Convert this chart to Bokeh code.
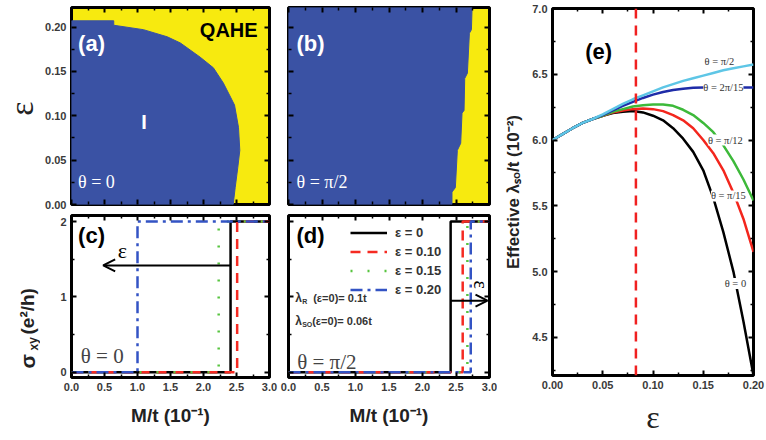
from bokeh.plotting import figure
from bokeh.layouts import row, column
from bokeh.models import (Range1d, FixedTicker, PrintfTickFormatter, LinearAxis, Label,
                          Arrow, OpenHead, Span, Legend, LegendItem)
from bokeh.embed import file_html
from bokeh.resources import INLINE

# ---------------- data ----------------
# (a) phase boundary, theta = 0  (M/t in 1e-1, epsilon)
a_M = [2.45, 2.48, 2.52, 2.55, 2.53, 2.47, 2.41, 2.30, 2.15, 1.95, 1.65, 1.45, 1.09, 0.64, 0.64, 0.0]
a_eps = [0.0, 0.019, 0.042, 0.061, 0.087, 0.112, 0.121, 0.137, 0.154, 0.166, 0.182, 0.189, 0.197, 0.202, 0.207, 0.207]
# (b) phase boundary, theta = pi/2
b_M = [2.44, 2.44, 2.49, 2.52, 2.57, 2.59, 2.62, 2.63, 2.67, 2.70, 2.73, 2.74]
b_eps = [0.0, 0.014, 0.019, 0.061, 0.069, 0.103, 0.106, 0.142, 0.148, 0.193, 0.197, 0.222]

# (c),(d) Hall conductance steps
eps_labels = ["ε = 0", "ε = 0.10", "ε = 0.15", "ε = 0.20"]
Mt_theta0 = [2.41, 2.51, 2.23, 1.00]
Mt_theta90 = [2.42, 2.60, 2.67, 2.72]
sigma_low, sigma_high = 0.0, 2.0
M_max = 3.0

# (e) effective lambda_so/t (1e-2) vs epsilon
eps_e = [0.00, 0.01, 0.02, 0.03, 0.04, 0.05, 0.06, 0.07, 0.08, 0.09, 0.10,
         0.11, 0.12, 0.13, 0.14, 0.15, 0.16, 0.17, 0.18, 0.19, 0.20]
lam_0 = [6.00, 6.045, 6.09, 6.13, 6.16, 6.185, 6.205, 6.215, 6.22, 6.21, 6.185,
         6.15, 6.09, 6.01, 5.91, 5.77, 5.56, 5.30, 5.00, 4.62, 4.21]
lam_pi15 = [6.00, 6.045, 6.09, 6.13, 6.16, 6.185, 6.21, 6.225, 6.235, 6.24, 6.235,
            6.22, 6.19, 6.15, 6.09, 6.00, 5.90, 5.77, 5.60, 5.40, 5.15]
lam_pi12 = [6.00, 6.045, 6.09, 6.13, 6.16, 6.185, 6.215, 6.235, 6.255, 6.265, 6.27,
            6.27, 6.26, 6.23, 6.19, 6.13, 6.06, 5.96, 5.84, 5.70, 5.54]
lam_2pi15 = [6.00, 6.045, 6.09, 6.13, 6.16, 6.19, 6.225, 6.26, 6.29, 6.32, 6.345,
             6.365, 6.38, 6.39, 6.397, 6.40, 6.40, 6.40, 6.40, 6.40, 6.40]
lam_pi2 = [6.00, 6.045, 6.09, 6.13, 6.16, 6.195, 6.235, 6.275, 6.31, 6.34, 6.37,
           6.40, 6.425, 6.45, 6.47, 6.49, 6.51, 6.53, 6.545, 6.56, 6.575]
theta_labels = ["θ = 0", "θ = π/15", "θ = π/12", "θ = 2π/15", "θ = π/2"]
eps_critical = 0.083

# ticks
ticks_M = [0.0, 0.5, 1.0, 1.5, 2.0, 2.5, 3.0]
minor_M = [0.25, 0.75, 1.25, 1.75, 2.25, 2.75]
ticks_eps = [0.0, 0.05, 0.10, 0.15, 0.20]
minor_eps = [0.025, 0.075, 0.125, 0.175]
ticks_sig = [0, 1, 2]
minor_sig = [0.5, 1.5]
ticks_lam = [4.5, 5.0, 5.5, 6.0, 6.5, 7.0]
minor_lam = [4.25, 4.75, 5.25, 5.75, 6.25, 6.75]

SANS = "Liberation Sans"
SERIF = "Liberation Serif"
BLUE_PH = "#3a52a4"
YELLOW_PH = "#f7ea0f"
LINE_COLS = ["black", "#f52a22", "#57c43f", "#3353c4"]
LINE_DASH = ["solid", "10 7", "2 15", "12 5 3 5"]
E_COLS = ["black", "#f3261d", "#3db93a", "#1e2ca8", "#5ec6e6"]


def make_fig(fw, fh, xr, yr, left, right, top, bottom, bg="white"):
    p = figure(frame_width=fw, frame_height=fh, x_range=Range1d(*xr), y_range=Range1d(*yr),
               output_backend="svg", toolbar_location=None,
               min_border_left=left, min_border_right=right,
               min_border_top=top, min_border_bottom=bottom)
    p.grid.visible = False
    p.outline_line_color = "black"
    p.outline_line_width = 3
    p.outline_line_alpha = 1
    p.background_fill_color = bg
    p.border_fill_color = "white"
    return p


def style_axis(ax, ticks, minor, labels=True, fmt=None, standoff=5):
    ax.ticker = FixedTicker(ticks=ticks, minor_ticks=minor)
    ax.axis_line_color = None
    ax.major_tick_in = 5
    ax.major_tick_out = 0
    ax.major_tick_line_width = 2
    ax.minor_tick_in = 3
    ax.minor_tick_out = 0
    ax.minor_tick_line_width = 1.5
    if labels:
        ax.major_label_text_font = SANS
        ax.major_label_text_font_style = "bold"
        ax.major_label_text_font_size = "11px"
        ax.major_label_text_color = "#3a3a3a"
        ax.major_label_standoff = standoff
        if fmt:
            ax.formatter = PrintfTickFormatter(format=fmt)
    else:
        ax.major_label_text_font_size = "0px"
        ax.major_label_text_color = None
        ax.major_label_standoff = 0


def add_axes(p, xt, xm, yt, ym, xlab, ylab, xfmt=None, yfmt=None, xstand=5):
    bottom = p.below[0]
    left = p.left[0]
    style_axis(bottom, xt, xm, xlab, xfmt, standoff=xstand)
    style_axis(left, yt, ym, ylab, yfmt)
    top = LinearAxis()
    right = LinearAxis()
    style_axis(top, xt, xm, False)
    style_axis(right, yt, ym, False)
    p.add_layout(top, "above")
    p.add_layout(right, "right")
    return bottom, left


def lab(p, x, y, text, size, color="black", font=SANS, style="bold", align="left",
        baseline="middle", angle=0.0, bg=None, xoff=0, yoff=0):
    p.add_layout(Label(x=x, y=y, text=text, text_font=font, text_font_size=f"{size}px",
                       text_color=color, text_font_style=style, text_align=align,
                       text_baseline=baseline, angle=angle, background_fill_color=bg,
                       x_offset=xoff, y_offset=yoff))


def label_style(ax, text, size=18, font=SANS, style="bold", standoff=8):
    ax.axis_label = text
    ax.axis_label_text_font = font
    ax.axis_label_text_font_size = f"{size}px"
    ax.axis_label_text_font_style = style
    ax.axis_label_text_color = "#222222"
    ax.axis_label_standoff = standoff


TOTAL_H = 440
YL_W = 40
LEFT_B = 71 - YL_W

# ---------------- strip holding the y-axis titles of (a) and (c) ----------------
pyl = figure(frame_width=YL_W, frame_height=TOTAL_H, x_range=Range1d(0, YL_W), y_range=Range1d(0, TOTAL_H),
             output_backend="svg", toolbar_location=None, x_axis_location=None, y_axis_location=None,
             min_border_left=0, min_border_right=0, min_border_top=0, min_border_bottom=0)
pyl.grid.visible = False
pyl.outline_line_color = None
lab(pyl, 21, 340, "ε", 34, color="#222222", font=SERIF, style="normal", align="center", angle=1.5708)
lab(pyl, 27, 80, "σ", 21, color="#222222", angle=1.5708)
lab(pyl, 33, 98, "xy", 12, color="#222222", angle=1.5708)
lab(pyl, 27, 114, "(e²/h)", 19, color="#222222", angle=1.5708)

EPS_TOP = 0.222
# ---------------- (a) ----------------
pa = make_fig(198, 197, (0, M_max), (0, EPS_TOP), LEFT_B, 10, 7, 5, bg=YELLOW_PH)
pa.patch([0.0] + a_M, [0.0] + a_eps, fill_color=BLUE_PH, line_color=BLUE_PH, line_width=1)
add_axes(pa, ticks_M, minor_M, ticks_eps, minor_eps, False, True, yfmt="%.2f")
lab(pa, 0.1, 0.181, "(a)", 22, color="white")
lab(pa, 2.82, 0.197, "QAHE", 20, align="right")
lab(pa, 1.1, 0.093, "I", 20, color="white", align="center")
lab(pa, 0.1, 0.025, "θ = 0", 18, color="white", font=SERIF, style="normal")

# ---------------- (b) ----------------
pb = make_fig(201, 197, (0, M_max), (0, EPS_TOP), 9, 8, 7, 5, bg=YELLOW_PH)
pb.patch([0.0] + b_M + [0.0], [0.0] + b_eps + [EPS_TOP], fill_color=BLUE_PH, line_color=BLUE_PH, line_width=1)
add_axes(pb, ticks_M, minor_M, ticks_eps, minor_eps, False, False)
lab(pb, 0.12, 0.181, "(b)", 22, color="white")
lab(pb, 0.12, 0.025, "θ = π/2", 18, color="white", font=SERIF, style="normal")

# ---------------- (c) ----------------
SIG_RANGE = (-0.07, 2.08)
pc = make_fig(198, 162, (0, M_max), SIG_RANGE, LEFT_B, 10, 6, 63)
for mt, col, dash in zip(Mt_theta0, LINE_COLS, LINE_DASH):
    pc.line([0.0, mt, mt, M_max], [sigma_low, sigma_low, sigma_high, sigma_high],
            line_color=col, line_dash=dash, line_width=2.5)
ax_b, ax_l = add_axes(pc, ticks_M, minor_M, ticks_sig, minor_sig, True, True, xfmt="%.1f")
label_style(ax_b, "M/t (10⁻¹)", size=19, standoff=11)
lab(pc, 0.1, 1.815, "(c)", 22)
lab(pc, 0.14, 0.21, "θ = 0", 21, color="#444444", font=SERIF, style="normal")
pc.add_layout(Arrow(end=OpenHead(size=12, line_width=2), x_start=Mt_theta0[0], y_start=1.417,
                    x_end=0.48, y_end=1.417, line_width=2, line_color="black"))
lab(pc, 0.77, 1.62, "ε", 22, font=SERIF, style="normal", align="center")

# ---------------- (d) ----------------
pd = make_fig(201, 162, (0, M_max), SIG_RANGE, 9, 8, 6, 63)
rends = []
for mt, col, dash in zip(Mt_theta90, LINE_COLS, LINE_DASH):
    r = pd.line([0.0, mt, mt, M_max], [sigma_low, sigma_low, sigma_high, sigma_high],
                line_color=col, line_dash=dash, line_width=2.5)
    rends.append(r)
ax_b, ax_l = add_axes(pd, ticks_M, minor_M, ticks_sig, minor_sig, True, False, xfmt="%.1f")
label_style(ax_b, "M/t (10⁻¹)", size=19, standoff=11)
lab(pd, 0.12, 1.815, "(d)", 22)
lab(pd, 0.13, 0.13, "θ = π/2", 21, color="#444444", font=SERIF, style="normal")
pd.add_layout(Arrow(end=OpenHead(size=12, line_width=2), x_start=Mt_theta90[0], y_start=0.95,
                    x_end=2.97, y_end=0.95, line_width=2, line_color="black"))
lab(pd, 2.88, 1.16, "ε", 20, font=SERIF, style="normal", align="center", angle=-1.5708)
lab(pd, 0.1, 0.99, "λ", 12, color="#333333")
lab(pd, 0.1, 0.99, "R", 7, color="#333333", xoff=7, yoff=-4)
lab(pd, 0.1, 0.99, "(ε=0)= 0.1t", 11, color="#333333", xoff=18)
lab(pd, 0.1, 0.68, "λ", 12, color="#333333")
lab(pd, 0.1, 0.68, "SO", 7, color="#333333", xoff=7, yoff=-4)
lab(pd, 0.1, 0.68, "(ε=0)= 0.06t", 11, color="#333333", xoff=17)
legend = Legend(items=[LegendItem(label=t, renderers=[r]) for t, r in zip(eps_labels, rends)],
                location=(62, 78), padding=0, spacing=0, margin=0, glyph_width=37,
                glyph_height=19, label_height=19, label_standoff=8,
                label_text_font=SANS, label_text_font_style="bold", label_text_font_size="13px",
                label_text_color="#333333", border_line_color=None, background_fill_alpha=0)
pd.add_layout(legend)

# ---------------- (e) ----------------
pe = make_fig(201, 367, (0, 0.2), (4.21, 7.0), 55, 13, 8, TOTAL_H - 375)
for lam, col in zip([lam_0, lam_pi15, lam_pi12, lam_2pi15, lam_pi2], E_COLS):
    pe.line(eps_e, lam, line_color=col, line_width=2.5)
pe.add_layout(Span(location=eps_critical, dimension="height", line_color="#f02020",
                   line_dash="10 7", line_width=2.5))
ax_b, ax_l = add_axes(pe, ticks_eps, minor_eps, ticks_lam, minor_lam, True, True,
                      xfmt="%.2f", yfmt="%.1f", xstand=5)
label_style(ax_b, "ε", size=32, font=SERIF, style="normal", standoff=7)
label_style(ax_l, "Effective λₛₒ/t (10⁻²)", size=17, standoff=6)
lab(pe, 0.046, 6.67, "(e)", 22, align="center")
lab_pos = [(0.182, 4.91), (0.175, 5.575), (0.172, 6.0), (0.170, 6.40), (0.166, 6.60)]
for (lx, ly), t in zip(lab_pos, theta_labels):
    lab(pe, lx, ly, t, 10.5, color="#333333", font=SERIF, style="normal", align="center", bg="white")

layout = row(pyl, column(pa, pc), column(pb, pd), pe)
open("out.html", "w").write(file_html(layout, INLINE))
